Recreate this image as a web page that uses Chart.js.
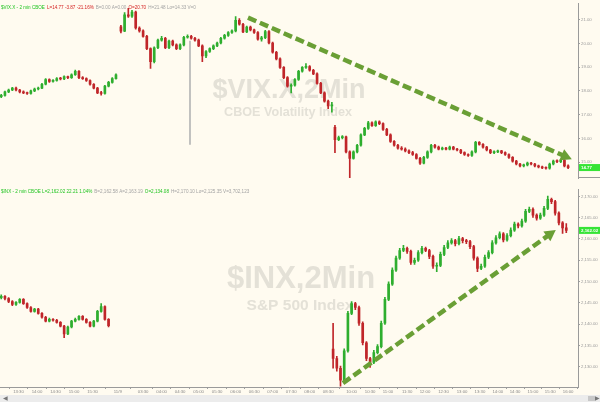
<!DOCTYPE html>
<html lang="en">
<head>
  <meta charset="UTF-8">
  <title>$VIX.X vs $INX, 2 min</title>
  <style>
    html, body { margin: 0; padding: 0; background: #fffbf0; }
    #wrap { position: relative; width: 600px; height: 402px; overflow: hidden; background: #fffbf0; }
    canvas { position: absolute; left: 0; }
    #vix { top: 0; }
    #inx { top: 186px; }
    .scroll { position: absolute; left: 0; top: 395px; width: 600px; height: 7px; background: #ececec; }
    .scroll span { position: absolute; top: -1px; font: 6px 'DejaVu Sans'; color: #777; }
    .thumb { position: absolute; left: 588px; top: 1px; width: 7px; height: 5px; background: #c8c8c8; }
  </style>
</head>
<body>
<div id="wrap">
  <canvas id="vix" width="600" height="186"></canvas>
  <canvas id="inx" width="600" height="209"></canvas>
  <div class="scroll"><span style="left:3px">&#9664;</span><div class="thumb"></div><span style="left:595px">&#9654;</span></div>
</div>

<script src="https://cdn.jsdelivr.net/npm/chart.js"></script>
<script>
  // one candle = 6 minutes, x axis in compressed session minutes
  const STEP = 6;
  const X_MAX = 937;

  // x axis ticks (session minutes) and their labels
  const xTickPos = [30, 60, 90, 120, 150, 191, 232, 262, 292, 322, 352, 382, 412, 442, 472, 502, 532,
                    570, 600, 629, 660, 689, 719, 749, 778, 807, 835, 864, 892, 921];
  const xTickLabels = ['13:30', '14:00', '14:30', '15:00', '15:30', '11/9', '03:30', '04:00', '04:30', '05:00',
                       '05:30', '06:00', '06:30', '07:00', '07:30', '08:00', '08:30',
                       '10:00', '10:30', '11:00', '11:30', '12:00', '12:30', '13:00', '13:30', '14:00',
                       '14:30', '15:00', '15:30', '16:00'];

  const vixTicks = [15, 16, 17, 18, 19, 20, 21];
  const inxTicks = [2130, 2135, 2140, 2145, 2150, 2155, 2160, 2165, 2170];

  // segment start (session minutes)
  const vixDay1Start = 2, vixEthStart = 196, vixRegStart = 543;
  const inxDay1Start = 2, inxRegStart = 540;

  // [open, high, low, close]
  const vixDay1 = [
    [17.76,17.86,17.72,17.81],[17.81,17.99,17.78,17.96],[17.96,18.08,17.93,18.04],[18.04,18.15,18.01,18.12],
    [18.12,18.16,18.00,18.04],[18.04,18.07,17.92,17.96],[17.96,18.00,17.88,17.92],[17.92,17.95,17.85,17.89],
    [17.89,18.04,17.86,18.00],[18.00,18.12,17.97,18.08],[18.08,18.16,18.04,18.12],[18.12,18.32,18.09,18.28],
    [18.28,18.52,18.25,18.48],[18.48,18.51,18.36,18.40],[18.40,18.48,18.37,18.44],[18.44,18.56,18.41,18.52],
    [18.52,18.57,18.46,18.50],[18.50,18.64,18.47,18.60],[18.60,18.63,18.52,18.56],[18.56,18.72,18.53,18.68],
    [18.68,18.88,18.65,18.83],[18.83,18.86,18.52,18.56],[18.56,18.60,18.48,18.52],[18.52,18.55,18.40,18.44],
    [18.44,18.47,18.24,18.28],[18.28,18.31,18.08,18.12],[18.12,18.15,17.88,17.92],[17.92,17.98,17.82,17.89],
    [17.89,18.24,17.86,18.20],[18.20,18.40,18.17,18.36],[18.36,18.56,18.33,18.52],[18.52,18.72,18.49,18.68]
  ];
  const vixEth = [
    [20.70,20.76,20.44,20.52],[20.52,21.30,20.50,21.21],[21.21,21.48,21.10,21.15],[21.15,21.40,21.10,21.32],
    [21.32,21.36,20.60,20.65],[20.65,20.70,20.48,20.53],[20.53,20.57,20.26,20.30],[20.30,20.34,19.74,19.78],
    [19.78,19.82,18.95,19.23],[19.23,19.86,19.18,19.82],[19.82,20.18,19.78,20.14],[20.14,20.30,20.10,20.22],
    [20.22,20.26,19.78,19.82],[19.82,20.14,19.78,20.10],[20.10,20.14,19.90,19.94],[19.94,19.98,19.74,19.78],
    [19.78,19.98,19.74,19.94],[19.94,20.30,19.90,20.26],[20.26,20.36,20.22,20.30],[20.30,20.34,20.18,20.22],
    [20.22,20.26,20.10,20.14],[20.14,20.18,19.86,19.90],[19.90,19.94,19.23,19.47],[19.47,19.70,19.40,19.66],
    [19.66,19.82,19.62,19.78],[19.78,19.94,19.74,19.90],[19.90,20.06,19.86,20.02],[20.02,20.26,19.98,20.22],
    [20.22,20.38,20.18,20.34],[20.34,20.50,20.30,20.46],[20.46,20.57,20.42,20.53],[20.53,21.13,20.49,20.97],
    [20.97,21.05,20.77,20.81],[20.81,20.85,20.45,20.49],[20.49,20.73,20.45,20.69],[20.69,20.73,20.53,20.57],
    [20.57,20.61,20.42,20.46],[20.46,20.50,20.14,20.18],[20.18,20.30,20.10,20.24],[20.24,20.55,20.20,20.50],
    [20.50,20.54,19.98,20.02],[20.02,20.06,19.59,19.63],[19.63,19.67,19.31,19.35],[19.35,19.39,18.95,18.99],
    [18.99,19.03,18.52,18.56],[18.56,18.60,18.16,18.20],[18.20,18.30,17.92,18.24],[18.24,18.52,18.20,18.48],
    [18.48,18.87,18.44,18.83],[18.83,19.03,18.79,18.99],[18.99,19.15,18.95,19.03],[19.03,19.07,18.83,18.87],
    [18.87,18.91,18.68,18.72],[18.72,18.76,18.28,18.32],[18.32,18.36,17.88,17.92],[17.92,17.96,17.53,17.57],
    [17.57,17.61,17.25,17.37],[17.37,17.52,17.10,17.41]
  ];
  const vixReg = [
    [16.46,16.55,15.40,15.95],[15.95,16.10,15.90,16.03],[16.03,16.12,15.98,16.07],[16.07,16.10,15.39,15.43],
    [15.43,15.47,14.33,15.16],[15.16,15.47,15.12,15.43],[15.43,15.75,15.39,15.71],[15.71,16.19,15.67,16.15],
    [16.15,16.46,16.11,16.42],[16.42,16.72,16.38,16.66],[16.66,16.70,16.50,16.54],[16.54,16.74,16.50,16.70],
    [16.70,16.74,16.58,16.62],[16.62,16.66,16.34,16.38],[16.38,16.42,16.11,16.15],[16.15,16.19,15.83,15.87],
    [15.87,15.91,15.67,15.71],[15.71,15.75,15.55,15.59],[15.59,15.65,15.50,15.55],[15.55,15.60,15.43,15.47],
    [15.47,15.52,15.36,15.40],[15.40,15.45,15.28,15.32],[15.32,15.36,15.12,15.16],[15.16,15.20,14.90,14.96],
    [14.96,15.24,14.92,15.20],[15.20,15.47,15.16,15.43],[15.43,15.75,15.39,15.71],[15.71,15.75,15.59,15.63],
    [15.63,15.67,15.51,15.55],[15.55,15.63,15.51,15.59],[15.59,15.62,15.51,15.55],[15.55,15.67,15.51,15.63],
    [15.63,15.66,15.51,15.55],[15.55,15.58,15.47,15.51],[15.51,15.54,15.36,15.40],[15.40,15.43,15.28,15.32],
    [15.32,15.35,15.24,15.28],[15.28,15.47,15.24,15.43],[15.43,15.87,15.39,15.83],[15.83,15.86,15.71,15.75],
    [15.75,15.78,15.59,15.63],[15.63,15.66,15.47,15.51],[15.51,15.54,15.36,15.40],[15.40,15.47,15.36,15.43],
    [15.43,15.51,15.40,15.47],[15.47,15.50,15.36,15.40],[15.40,15.43,15.28,15.32],[15.32,15.35,15.16,15.20],
    [15.20,15.23,15.00,15.04],[15.04,15.07,14.88,14.92],[14.92,14.95,14.80,14.84],[14.84,14.92,14.80,14.88],
    [14.88,15.00,14.84,14.96],[14.96,14.99,14.88,14.92],[14.92,14.95,14.80,14.84],[14.84,14.87,14.76,14.80],
    [14.80,14.83,14.72,14.76],[14.76,14.80,14.70,14.74],[14.74,14.96,14.70,14.92],[14.92,15.08,14.88,15.04],
    [15.04,15.10,14.98,15.02],[15.02,15.12,14.98,15.08],[15.08,15.11,14.80,14.84],[14.84,14.88,14.72,14.77]
  ];
  // stray print in the early session: [minute, low, high]
  const vixStray = [[308, 15.75, 20.10]];

  const inxDay1 = [
    [2146.2,2146.9,2145.9,2146.5],[2146.5,2146.7,2145.7,2146.0],[2146.0,2146.2,2145.0,2145.3],[2145.3,2145.5,2144.3,2144.6],
    [2144.6,2145.3,2144.4,2145.1],[2145.1,2146.0,2144.9,2145.8],[2145.8,2146.0,2144.6,2144.8],[2144.8,2145.0,2143.7,2143.9],
    [2143.9,2144.1,2142.8,2143.0],[2143.0,2143.7,2142.8,2143.5],[2143.5,2143.7,2142.3,2142.5],[2142.5,2142.7,2141.4,2141.6],
    [2141.6,2141.8,2140.5,2140.7],[2140.7,2141.4,2140.5,2141.1],[2141.1,2141.3,2140.7,2140.9],[2140.9,2141.1,2140.2,2140.4],
    [2140.4,2140.6,2139.3,2139.5],[2139.5,2139.7,2136.8,2137.7],[2137.7,2139.5,2137.5,2139.3],[2139.3,2140.9,2139.1,2140.7],
    [2140.7,2141.4,2140.5,2141.1],[2141.1,2142.0,2140.9,2141.8],[2141.8,2142.0,2140.9,2141.1],[2141.1,2141.3,2140.2,2140.4],
    [2140.4,2140.6,2139.3,2139.5],[2139.5,2140.9,2139.3,2140.7],[2140.7,2143.2,2140.5,2143.0],[2143.0,2144.8,2142.8,2144.1],
    [2144.1,2144.3,2140.9,2141.1],[2141.1,2141.3,2139.3,2139.6]
  ];
  const inxReg = [
    [2134.1,2140.2,2129.6,2131.9],[2131.9,2132.4,2128.9,2129.6],[2129.6,2130.1,2125.4,2126.8],[2126.8,2134.2,2126.5,2133.7],
    [2133.7,2143.0,2133.4,2142.5],[2142.5,2145.3,2142.2,2144.8],[2144.8,2145.1,2143.4,2143.9],[2143.9,2144.2,2139.7,2140.2],
    [2140.2,2140.5,2135.1,2135.6],[2135.6,2135.9,2131.4,2131.9],[2131.9,2132.2,2129.8,2131.0],[2131.0,2133.8,2130.7,2133.3],
    [2133.3,2135.2,2133.0,2134.7],[2134.7,2140.7,2134.4,2140.2],[2140.2,2146.3,2139.9,2145.8],[2145.8,2149.9,2145.5,2149.4],
    [2149.4,2153.2,2149.1,2152.7],[2152.7,2156.0,2152.4,2155.5],[2155.5,2157.8,2155.2,2157.3],[2157.3,2158.5,2157.0,2157.8],
    [2157.8,2158.1,2156.6,2157.1],[2157.1,2157.4,2154.0,2154.5],[2154.5,2155.5,2154.0,2155.0],[2155.0,2157.3,2154.7,2156.8],
    [2156.8,2158.3,2156.5,2157.8],[2157.8,2158.1,2157.0,2157.3],[2157.3,2157.6,2155.4,2155.9],[2155.9,2156.2,2153.1,2153.6],
    [2153.6,2154.4,2152.3,2153.8],[2153.8,2156.9,2153.5,2156.4],[2156.4,2158.5,2156.1,2158.0],[2158.0,2159.6,2157.7,2159.1],
    [2159.1,2160.1,2158.8,2159.6],[2159.6,2159.9,2158.4,2158.9],[2158.9,2160.6,2158.6,2160.1],[2160.1,2160.4,2159.1,2159.6],
    [2159.6,2159.9,2158.9,2159.4],[2159.4,2159.7,2157.7,2158.2],[2158.2,2158.5,2155.0,2155.5],[2155.5,2155.8,2152.3,2153.1],
    [2153.1,2154.1,2152.8,2153.6],[2153.6,2156.2,2153.3,2155.7],[2155.7,2157.3,2155.4,2156.8],[2156.8,2159.6,2156.5,2159.1],
    [2159.1,2160.8,2158.8,2160.3],[2160.3,2161.7,2160.0,2161.2],[2161.2,2161.5,2159.3,2159.8],[2159.8,2161.3,2159.5,2160.8],
    [2160.8,2162.6,2160.5,2162.1],[2162.1,2164.0,2161.8,2163.5],[2163.5,2163.8,2162.6,2163.1],[2163.1,2164.7,2162.8,2164.2],
    [2164.2,2167.0,2163.9,2166.5],[2166.5,2167.5,2166.2,2167.0],[2167.0,2167.3,2165.1,2165.6],[2165.6,2165.9,2164.4,2164.9],
    [2164.9,2166.1,2164.6,2165.6],[2165.6,2167.7,2165.3,2167.2],[2167.2,2170.1,2166.9,2169.3],[2169.3,2169.6,2168.3,2168.8],
    [2168.8,2169.1,2165.6,2166.1],[2166.1,2166.4,2163.3,2163.8],[2163.8,2164.1,2161.3,2162.6],[2162.6,2163.6,2161.5,2162.0]
  ];

  // trend arrows in data coordinates: [minute, value]
  const vixArrow = [[402, 21.09], [927, 15.12]];
  const inxArrow = [[556, 2126.1], [901, 2162.1]];

  const UP = '#2fae2f', DOWN = '#c0262a', FLAT = '#a9a9a9';
  const TXT_GREEN = '#21c421', TXT_RED = '#d42020', TXT_GRAY = '#a3a3a3';

  function buildCandles(segments) {
    const wick = [], body = [], colors = [];
    segments.forEach(([start, bars]) => {
      bars.forEach((b, i) => {
        const t = start + i * STEP;
        wick.push({ x: t, y: [b[2], b[1]] });
        body.push({ x: t, y: [b[0], b[3]] });
        colors.push(b[3] > b[0] ? UP : b[3] < b[0] ? DOWN : FLAT);
      });
    });
    return { wick, body, colors };
  }

  const decor = {
    id: 'decor',
    beforeDatasetsDraw(chart, args, o) {
      const ctx = chart.ctx, a = chart.chartArea;
      ctx.save();
      ctx.fillStyle = '#e4e1d7';
      ctx.textAlign = 'center';
      o.marks.forEach(m => {
        ctx.font = 'bold ' + m.size + 'px "Liberation Sans"';
        ctx.fillText(m.text, a.left + m.x, a.top + m.y);
      });
      ctx.restore();
    },
    afterDatasetsDraw(chart, args, o) {
      const ctx = chart.ctx, a = chart.chartArea;
      const xs = chart.scales.x, ys = chart.scales.y;
      // dashed trend arrow
      const x1 = xs.getPixelForValue(o.arrow[0][0]), y1 = ys.getPixelForValue(o.arrow[0][1]);
      const x2 = xs.getPixelForValue(o.arrow[1][0]), y2 = ys.getPixelForValue(o.arrow[1][1]);
      const ang = Math.atan2(y2 - y1, x2 - x1), ux = Math.cos(ang), uy = Math.sin(ang);
      ctx.save();
      ctx.strokeStyle = '#6a9f35';
      ctx.fillStyle = '#6a9f35';
      ctx.lineWidth = 4.5;
      ctx.setLineDash([9, 4]);
      ctx.beginPath();
      ctx.moveTo(x1, y1);
      ctx.lineTo(x2 - ux * 10, y2 - uy * 10);
      ctx.stroke();
      ctx.setLineDash([]);
      ctx.beginPath();
      ctx.moveTo(x2, y2);
      ctx.lineTo(x2 - ux * 11 - uy * 6, y2 - uy * 11 + ux * 6);
      ctx.lineTo(x2 - ux * 11 + uy * 6, y2 - uy * 11 - ux * 6);
      ctx.closePath();
      ctx.fill();

      // header line
      ctx.font = '4.6px "Liberation Sans"';
      ctx.textBaseline = 'middle';
      let hx = a.left + 1;
      o.header.forEach(([t, c]) => {
        ctx.fillStyle = c;
        ctx.fillText(t, hx, a.top + o.headerY);
        hx += ctx.measureText(t).width + 2;
      });

      // last price tag
      const py = ys.getPixelForValue(o.last);
      ctx.fillStyle = '#36e436';
      ctx.fillRect(a.right + 1, py - 3.5, 21, 7);
      ctx.fillStyle = '#ffffff';
      ctx.font = 'bold 4.4px "Liberation Sans"';
      ctx.fillText(o.lastLabel, a.right + 3, py);

      // panel separator in the axis column
      if (o.separator) {
        ctx.strokeStyle = '#9a9a9a';
        ctx.lineWidth = 1;
        ctx.beginPath();
        ctx.moveTo(a.right, a.bottom - 0.5);
        ctx.lineTo(chart.width, a.bottom - 0.5);
        ctx.stroke();
      }
      ctx.restore();
    }
  };

  function yAxis(min, max, ticks, fmt) {
    return {
      position: 'right',
      min: min,
      max: max,
      afterFit: s => { s.width = 22; },
      afterBuildTicks: s => { s.ticks = ticks.map(v => ({ value: v })); },
      grid: { drawOnChartArea: false, tickLength: 2, color: '#a0a0a0' },
      border: { color: '#9a9a9a' },
      ticks: { font: { family: 'Liberation Sans', size: 4.3 }, color: '#9a9a9a', padding: 1, callback: fmt }
    };
  }

  function makeChart(id, segments, extra, yOpts, showX, decorOpts) {
    const c = buildCandles(segments);
    const datasets = [
      { data: c.wick, backgroundColor: c.colors, barThickness: 1, grouped: false, minBarLength: 1 },
      { data: c.body, backgroundColor: c.colors, barThickness: 2, grouped: false, minBarLength: 1 }
    ].concat(extra);
    return new Chart(document.getElementById(id), {
      type: 'bar',
      data: { datasets: datasets },
      options: {
        responsive: false,
        animation: false,
        layout: { padding: 0 },
        plugins: { legend: { display: false }, tooltip: { enabled: false }, decor: decorOpts },
        scales: {
          x: {
            type: 'linear',
            display: showX,
            min: 0,
            max: X_MAX,
            offset: false,
            afterFit: s => { s.height = 8; },
            afterBuildTicks: s => { s.ticks = xTickPos.map(v => ({ value: v })); },
            grid: { drawOnChartArea: false, tickLength: 2, color: '#a0a0a0' },
            border: { color: '#9a9a9a' },
            ticks: {
              autoSkip: false, maxRotation: 0, padding: 0,
              font: { family: 'Liberation Sans', size: 4.3 }, color: '#8a8a8a',
              callback: v => xTickLabels[xTickPos.indexOf(v)]
            }
          },
          y: yOpts
        }
      },
      plugins: [decor]
    });
  }

  makeChart('vix',
    [[vixDay1Start, vixDay1], [vixEthStart, vixEth], [vixRegStart, vixReg]],
    [{ data: vixStray.map(s => ({ x: s[0], y: [s[1], s[2]] })), backgroundColor: '#b5b5b5', barThickness: 1, grouped: false }],
    yAxis(14.33, 21.68, vixTicks, v => v.toFixed(2)),
    false,
    {
      marks: [
        { text: '$VIX.X,2Min', size: 27, x: 289, y: 94 },
        { text: 'CBOE Volatility Index', size: 12.6, x: 288, y: 112 }
      ],
      arrow: vixArrow,
      header: [['$VIX.X - 2 min CBOE', TXT_GREEN], ['L=14.77 -3.87 -21.16%', TXT_RED],
               ['B=0.00 A=0.00', TXT_GRAY], ['O=20.70', TXT_RED], ['H=21.48 Lo=14.33 V=0', TXT_GRAY]],
      headerY: 4,
      last: 14.77,
      lastLabel: '14.77',
      separator: true
    });

  makeChart('inx',
    [[inxDay1Start, inxDay1], [inxRegStart, inxReg]],
    [],
    yAxis(2125.2, 2171.62, inxTicks,
      v => v.toLocaleString('en-US', { minimumFractionDigits: 2, maximumFractionDigits: 2 })),
    true,
    {
      marks: [
        { text: '$INX,2Min', size: 31, x: 301, y: 98 },
        { text: 'S&P 500 Index', size: 15.5, x: 300, y: 120 }
      ],
      arrow: inxArrow,
      header: [['$INX - 2 min CBOE L=2,162.02 22.21 1.04%', TXT_GREEN], ['B=2,162.58 A=2,163.19', TXT_GRAY],
               ['O=2,134.08', TXT_GREEN], ['H=2,170.10 Lo=2,125.35 V=3,702,123', TXT_GRAY]],
      headerY: 2.5,
      last: 2162.02,
      lastLabel: '2,162.02',
      separator: false
    });
</script>
</body>
</html>
